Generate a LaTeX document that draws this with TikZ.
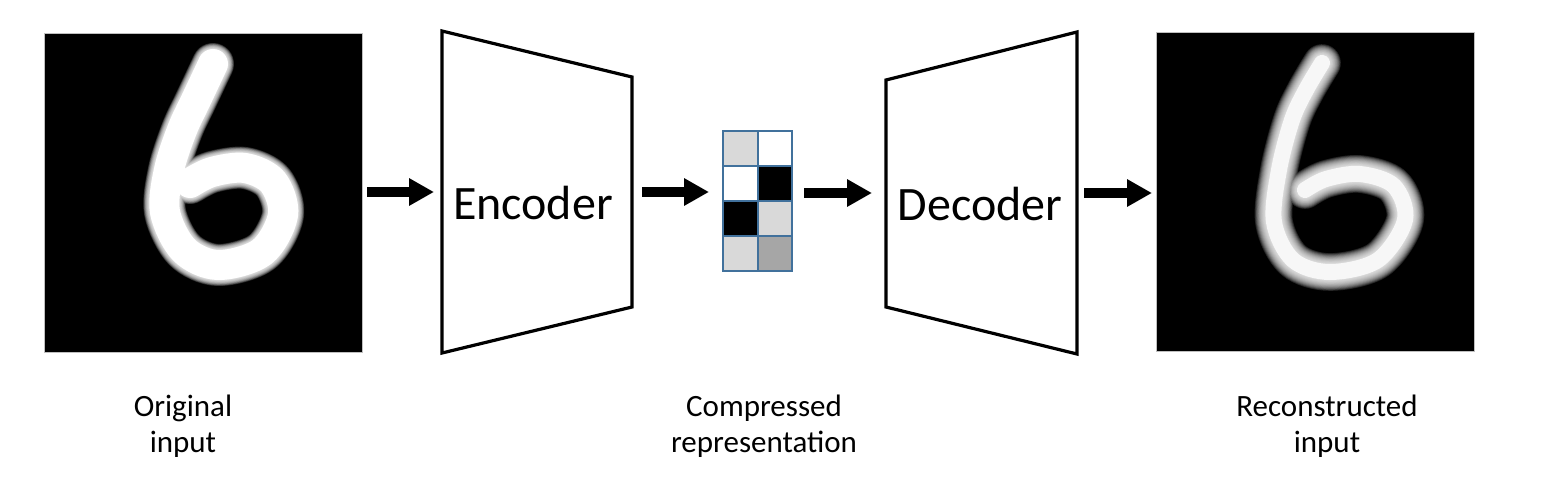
\documentclass[tikz,border=0pt]{standalone}
\usepackage{fontspec}
\setmainfont{Carlito}
\usetikzlibrary{arrows.meta}
\definecolor{gridblue}{HTML}{41719C}
\definecolor{cellgray}{HTML}{D9D9D9}
\definecolor{celldark}{HTML}{A6A6A6}
\definecolor{imgborder}{HTML}{BFBFBF}
\begin{document}
\begin{tikzpicture}[x=0.5pt,y=-0.5pt,
  img/.style={draw=imgborder, fill=black, line width=0.5pt, minimum width=159pt, minimum height=159.5pt, inner sep=0pt, outer sep=0pt},
  trap/.style={draw=black, line width=1.6pt, line join=miter, fill=white},
  bigtext/.style={font=\fontsize{24pt}{28pt}\selectfont, inner sep=0pt},
  lab/.style={font=\fontsize{15.5pt}{18pt}\selectfont, align=center, inner sep=0pt},
  arr/.style={-{Triangle[length=12.5pt,width=13pt]}, line width=5pt},
  codebox/.style={draw=gridblue, line width=1pt, minimum width=34.5pt, minimum height=70pt, inner sep=0pt, outer sep=0pt},
  cellline/.style={draw=gridblue, line width=1pt},
  stroke/.style={line cap=round, line join=round}
]
\useasboundingbox (0,0) rectangle (1560,499);

% input image
\node[img] (img1) at (203,192.5) {};
\begin{scope}
  \clip (img1.south west) rectangle (img1.north east);
  \foreach \i in {0,...,9} {
    \draw[white, stroke, line width={15pt+(10-\i)*0.6pt}, opacity=0.18]
      plot[smooth, tension=0.55] coordinates {(213,64) (196,100) (182,130) (169,170) (165,212) (184,250) (218,265) (262,252) (283,215) (273,182) (245,168) (212,172) (190,183)};
  }
  \draw[white, stroke, line width=15pt]
    plot[smooth, tension=0.55] coordinates {(213,64) (196,100) (182,130) (169,170) (165,212) (184,250) (218,265) (262,252) (283,215) (273,182) (245,168) (212,172) (190,183)};
\end{scope}

% encoder
\coordinate (eTL) at (442,31);
\coordinate (eTR) at (632,77);
\coordinate (eBR) at (632,307);
\coordinate (eBL) at (442,353);
\draw[trap] (eTL) -- (eTR) -- (eBR) -- (eBL) -- cycle;
\node[bigtext] (enc) at (533,203) {Encoder};
\coordinate (encL) at (442,192);
\coordinate (encR) at (632,192);

% compressed code
\node[codebox] (code) at (757.5,201) {};
\fill[cellgray] (723,131) rectangle (757.5,166);
\fill[white] (757.5,131) rectangle (792,166);
\fill[white] (723,166) rectangle (757.5,201);
\fill[black] (757.5,166) rectangle (792,201);
\fill[black] (723,201) rectangle (757.5,236);
\fill[cellgray] (757.5,201) rectangle (792,236);
\fill[cellgray] (723,236) rectangle (757.5,271);
\fill[celldark] (757.5,236) rectangle (792,271);
\draw[cellline] (code.north) -- (code.south);
\foreach \yy in {166,201,236} { \draw[cellline] (code.west |- 0,\yy) -- (code.east |- 0,\yy); }
\node[codebox] at (code.center) {};

% decoder
\coordinate (dTL) at (886,80);
\coordinate (dTR) at (1077,32);
\coordinate (dBR) at (1077,354);
\coordinate (dBL) at (886,307);
\draw[trap] (dTL) -- (dTR) -- (dBR) -- (dBL) -- cycle;
\node[bigtext] (dec) at (980,204) {Decoder};
\coordinate (decL) at (886,193);
\coordinate (decR) at (1077,193);

% reconstructed image
\node[img] (img2) at (1315,191.5) {};
\begin{scope}
  \clip (img2.south west) rectangle (img2.north east);
  \foreach \i in {0,...,11} {
    \draw[white, stroke, line width={8pt+(12-\i)*0.9pt}, opacity=0.15]
      plot[smooth, tension=0.55] coordinates {(1322,63) (1306,90) (1292,120) (1279,170) (1274,222) (1293,260) (1330,272) (1378,260) (1405,220) (1394,186) (1360,174) (1326,179) (1305,190)};
  }
  \draw[white, stroke, line width=8pt, opacity=0.8]
    plot[smooth, tension=0.55] coordinates {(1322,63) (1306,90) (1292,120) (1279,170) (1274,222) (1293,260) (1330,272) (1378,260) (1405,220) (1394,186) (1360,174) (1326,179) (1305,190)};
\end{scope}

% arrows
\draw[arr] ([xshift=2.5pt]img1.east |- encL) -- ([xshift=-4pt]encL);
\draw[arr] ([xshift=5pt]encR) -- ([xshift=-7pt]code.west |- encR);
\draw[arr] ([xshift=6pt]code.east |- decL) -- ([xshift=-7pt]decL);
\draw[arr] ([xshift=3.5pt]decR) -- ([xshift=-2pt]img2.west |- decR);

% labels
\node[lab] (l1) at (183,426) {Original\\input};
\node[lab] (l2) at (764,426) {Compressed\\representation};
\node[lab] (l3) at (1327,426) {Reconstructed\\input};
\end{tikzpicture}
\end{document}
